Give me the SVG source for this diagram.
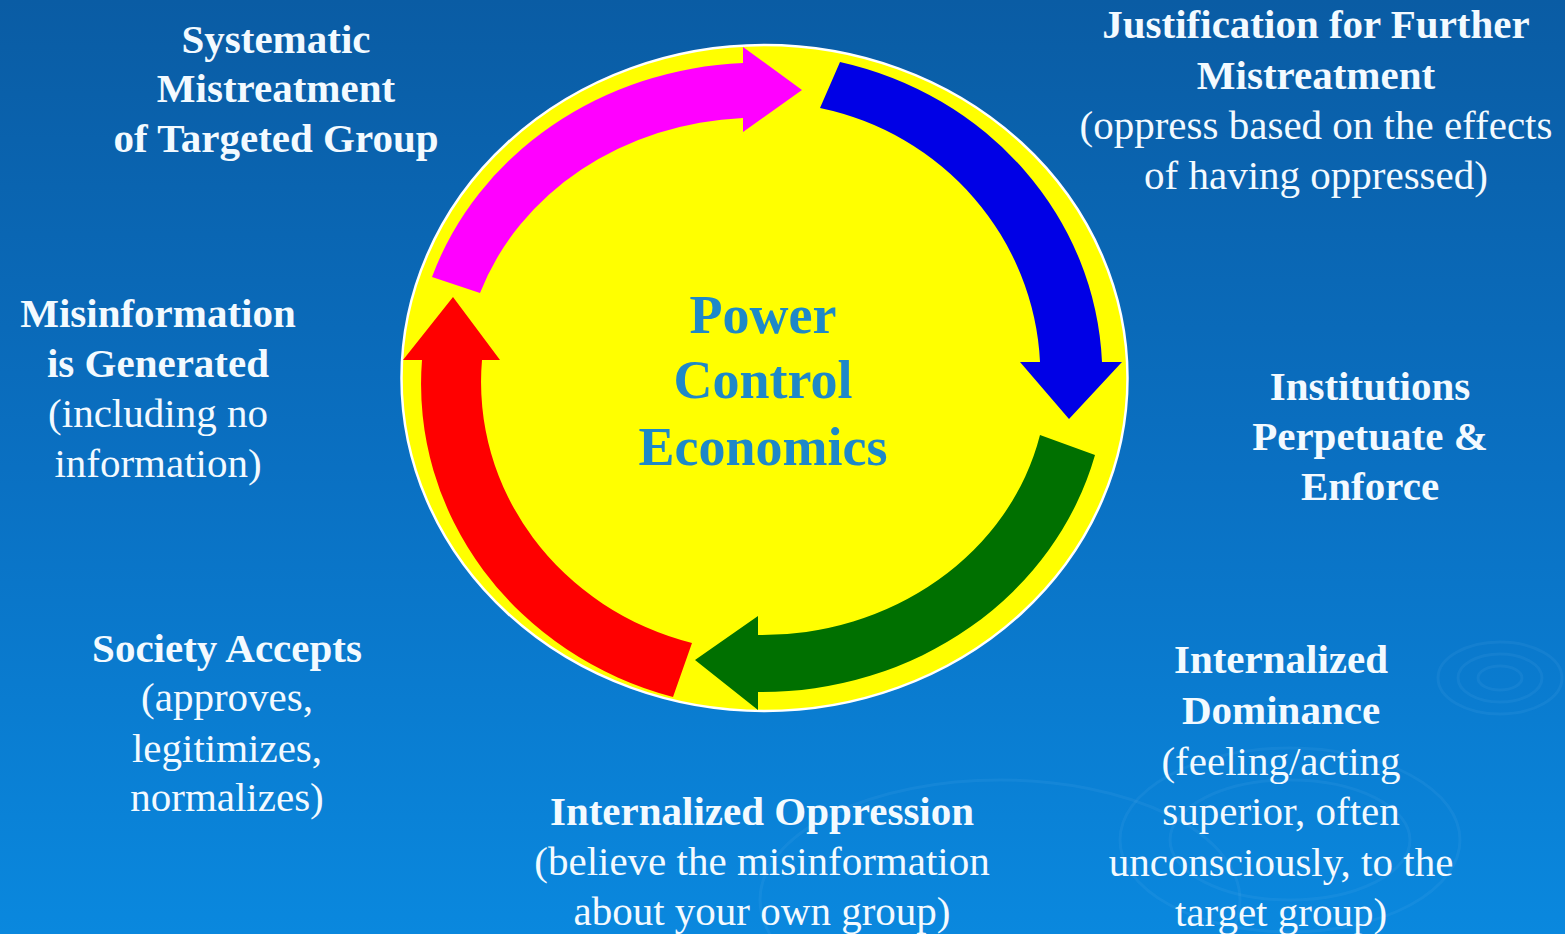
<svg xmlns="http://www.w3.org/2000/svg" width="1565" height="934" viewBox="0 0 1565 934">
  <defs>
    <linearGradient id="bg" x1="0" y1="0" x2="0" y2="1">
      <stop offset="0" stop-color="#0a5ca4"/>
      <stop offset="0.5" stop-color="#0a70c2"/>
      <stop offset="1" stop-color="#0a88de"/>
    </linearGradient>
    <style>
      .lbl { font-family: "Liberation Serif", "Times New Roman", serif; font-size: 41px; fill: #f3faff; text-anchor: middle; }
      .b { font-weight: bold; }
      .hub { font-family: "Liberation Serif", "Times New Roman", serif; font-size: 54px; font-weight: bold; fill: #1e88c8; text-anchor: middle; }
      .ripple { fill: none; stroke: #9fd4ff; stroke-opacity: 0.07; stroke-width: 3; }
    </style>
  </defs>

  <!-- backdrop -->
  <rect width="1565" height="934" fill="url(#bg)"/>
  <g id="ripples">
    <ellipse class="ripple" cx="1500" cy="678" rx="22" ry="12"/>
    <ellipse class="ripple" cx="1500" cy="678" rx="42" ry="24"/>
    <ellipse class="ripple" cx="1500" cy="678" rx="62" ry="36"/>
    <ellipse class="ripple" cx="1290" cy="840" rx="120" ry="60"/>
    <ellipse class="ripple" cx="1290" cy="840" rx="170" ry="92"/>
    <ellipse class="ripple" cx="1000" cy="900" rx="240" ry="120"/>
  </g>

  <!-- central disc -->
  <g id="hub">
    <ellipse cx="764.5" cy="378" rx="363" ry="333" fill="#ffff00" stroke="#ffffff" stroke-width="2.5"/>
    <text class="hub" x="763" y="333">Power</text>
    <text class="hub" x="763" y="398">Control</text>
    <text class="hub" x="763" y="465">Economics</text>
  </g>

  <!-- cycle arrows -->
  <g id="connectors">
    <path id="arrow-pink" fill="#ff00ff" d="M 432 277 A 345 316 0 0 1 743 63 L 743 47 L 802 90 L 743 132 L 743 118 A 293 261 0 0 0 480 293 Z"/>
    <path id="arrow-blue" fill="#0000e6" d="M 840 62 A 340 322 0 0 1 1102 362 L 1122 362 L 1069 419 L 1020 362 L 1040 362 A 278 273 0 0 0 820 108 Z"/>
    <path id="arrow-green" fill="#007000" d="M 1095 455 A 345 318 0 0 1 758 692 L 758 710 L 695 660 L 758 616 L 758 635 A 285 258 0 0 0 1040 435 Z"/>
    <path id="arrow-red" fill="#ff0000" d="M 673 697 A 345 325 0 0 1 422 360 L 403 360 L 453 297 L 500 360 L 482 360 A 284 270 0 0 0 692 643 Z"/>
  </g>

  <!-- stage labels -->
  <g id="systematic-mistreatment">
    <text class="lbl b" x="276" y="53">Systematic</text>
    <text class="lbl b" x="276" y="102">Mistreatment</text>
    <text class="lbl b" x="276" y="152">of Targeted Group</text>
  </g>
  <g id="justification">
    <text class="lbl b" x="1316" y="38">Justification for Further</text>
    <text class="lbl b" x="1316" y="89">Mistreatment</text>
    <text class="lbl" x="1316" y="139">(oppress based on the effects</text>
    <text class="lbl" x="1316" y="189">of having oppressed)</text>
  </g>
  <g id="institutions">
    <text class="lbl b" x="1370" y="400">Institutions</text>
    <text class="lbl b" x="1370" y="450">Perpetuate &amp;</text>
    <text class="lbl b" x="1370" y="500">Enforce</text>
  </g>
  <g id="internalized-dominance">
    <text class="lbl b" x="1281" y="673">Internalized</text>
    <text class="lbl b" x="1281" y="724">Dominance</text>
    <text class="lbl" x="1281" y="775">(feeling/acting</text>
    <text class="lbl" x="1281" y="825">superior, often</text>
    <text class="lbl" x="1281" y="876">unconsciously, to the</text>
    <text class="lbl" x="1281" y="926">target group)</text>
  </g>
  <g id="internalized-oppression">
    <text class="lbl b" x="762" y="825">Internalized Oppression</text>
    <text class="lbl" x="762" y="875">(believe the misinformation</text>
    <text class="lbl" x="762" y="925">about your own group)</text>
  </g>
  <g id="society-accepts">
    <text class="lbl b" x="227" y="662">Society Accepts</text>
    <text class="lbl" x="227" y="711">(approves,</text>
    <text class="lbl" x="227" y="762">legitimizes,</text>
    <text class="lbl" x="227" y="811">normalizes)</text>
  </g>
  <g id="misinformation">
    <text class="lbl b" x="158" y="327">Misinformation</text>
    <text class="lbl b" x="158" y="377">is Generated</text>
    <text class="lbl" x="158" y="427">(including no</text>
    <text class="lbl" x="158" y="477">information)</text>
  </g>
</svg>
